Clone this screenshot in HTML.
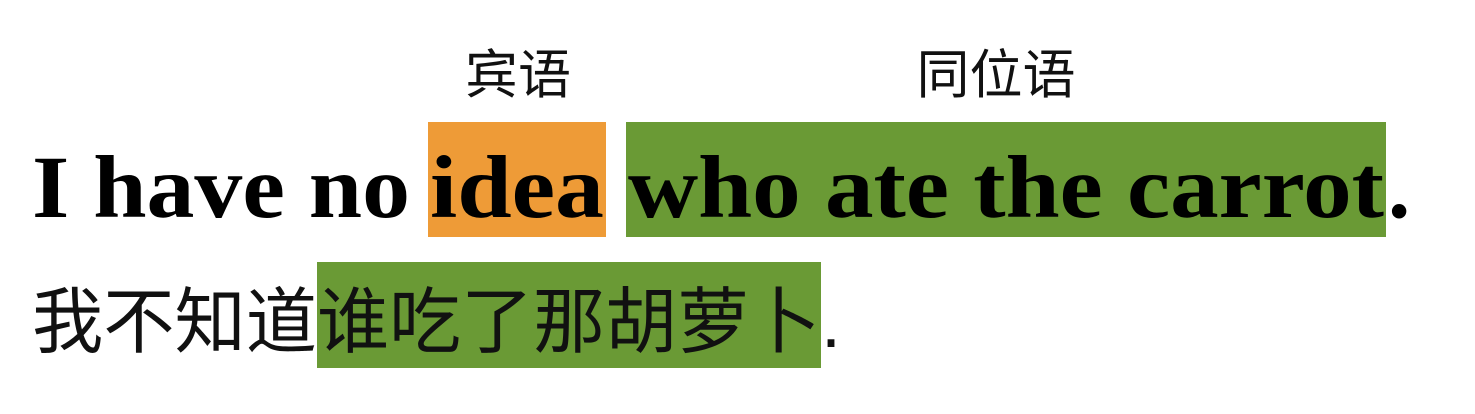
<!DOCTYPE html>
<html><head><meta charset="utf-8"><style>
html,body{margin:0;padding:0;background:#fff;}
svg{display:block;}
</style></head><body>
<svg width="1475" height="414" viewBox="0 0 1475 414" xmlns="http://www.w3.org/2000/svg">
<rect x="0" y="0" width="1475" height="414" fill="#fff"/>
<text x="518" y="93" text-anchor="middle" font-family="'Liberation Sans','Noto Sans CJK SC',sans-serif" font-size="53" fill="#111">宾语</text>
<text x="996" y="93" text-anchor="middle" font-family="'Liberation Sans','Noto Sans CJK SC',sans-serif" font-size="53" fill="#111">同位语</text>
<rect x="428" y="122" width="178" height="115" fill="#EE9B37"/>
<rect x="626" y="122" width="760" height="115" fill="#6A9A35"/>
<rect x="317" y="262" width="504" height="106" fill="#6A9A35"/>
<g font-family="'Liberation Serif',serif" font-weight="bold" font-size="89" fill="#000">
<text x="32" y="217" textLength="378" lengthAdjust="spacingAndGlyphs">I have no</text>
<text x="430" y="217" textLength="174" lengthAdjust="spacingAndGlyphs">idea</text>
<text x="628" y="217" textLength="756" lengthAdjust="spacingAndGlyphs">who ate the carrot</text>
<text x="1388" y="217">.</text>
</g>
<g font-family="'Liberation Sans','Noto Sans CJK SC',sans-serif" font-size="72" fill="#111">
<text x="32" y="347" textLength="285" lengthAdjust="spacingAndGlyphs">我不知道</text>
<text x="317" y="347" textLength="504" lengthAdjust="spacingAndGlyphs">谁吃了那胡萝卜</text>
<text x="821" y="347">.</text>
</g>
</svg>
</body></html>
